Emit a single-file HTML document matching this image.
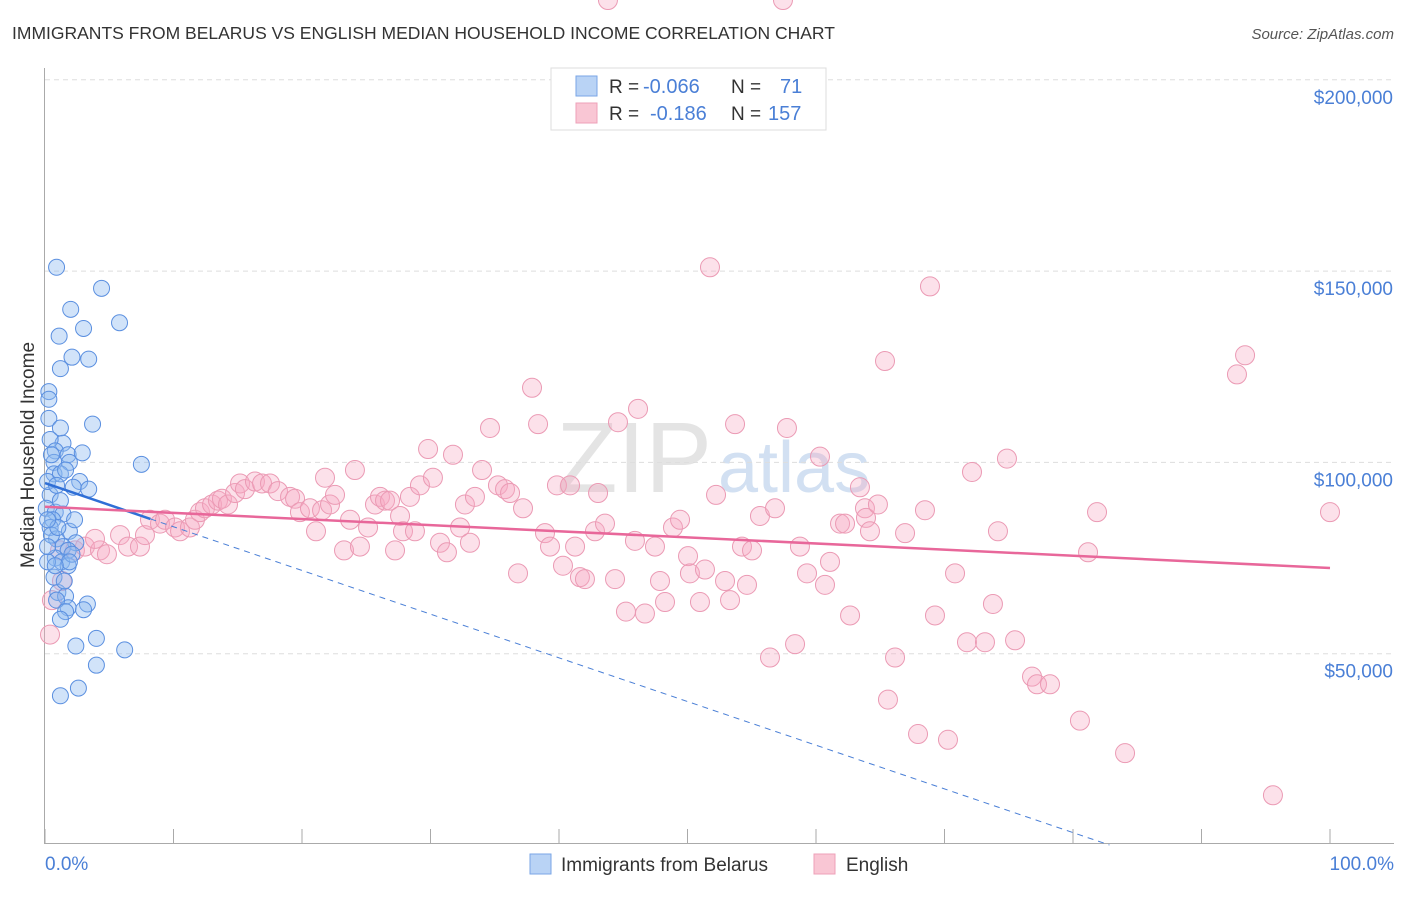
<!DOCTYPE html>
<html><head><meta charset="utf-8"><style>
body{margin:0;background:#fff;font-family:"Liberation Sans",sans-serif;}
svg text{font-family:"Liberation Sans",sans-serif;}
</style></head><body>
<svg id="chart" width="1406" height="892" viewBox="0 0 1406 892">
<text x="12" y="39" font-size="17.5" fill="#333">IMMIGRANTS FROM BELARUS VS ENGLISH MEDIAN HOUSEHOLD INCOME CORRELATION CHART</text>
<text x="1394" y="39" font-size="15" fill="#555" text-anchor="end" font-style="italic">Source: ZipAtlas.com</text>
<text x="712" y="492" font-size="100" fill="#e4e4e4" text-anchor="end" font-family="Liberation Serif">ZIP</text>
<text x="718" y="492" font-size="72" fill="#d2e0f2">atlas</text>
<g id="grid"></g>
<g id="axes"></g>
<g id="pts"></g>
<g id="trend"></g>
<text transform="translate(34,455) rotate(-90)" font-size="19" fill="#333" text-anchor="middle">Median Household Income</text>
<text x="45" y="870" font-size="19" fill="#4a7fd6">0.0%</text>
<text x="1394" y="870" font-size="19" fill="#4a7fd6" text-anchor="end">100.0%</text>
<g>
<rect x="551" y="68" width="275" height="62" fill="#fff" stroke="#ddd"/>
<rect x="576" y="76" width="21" height="20" fill="#b9d3f5" stroke="#7aa6e6"/>
<rect x="576" y="103" width="21" height="20" fill="#f9c6d4" stroke="#eea0b8"/>
<text x="609" y="93" font-size="19" fill="#333">R = </text><text x="643" y="93" font-size="20" fill="#4a7fd6">-0.066</text>
<text x="731" y="93" font-size="19" fill="#333">N = </text><text x="780" y="93" font-size="20" fill="#4a7fd6">71</text>
<text x="609" y="120" font-size="19" fill="#333">R = </text><text x="650" y="120" font-size="20" fill="#4a7fd6">-0.186</text>
<text x="731" y="120" font-size="19" fill="#333">N = </text><text x="768" y="120" font-size="20" fill="#4a7fd6">157</text>
</g>
<g>
<rect x="530" y="854" width="21" height="20" fill="#b9d3f5" stroke="#7aa6e6"/>
<text x="561" y="871" font-size="19" fill="#333">Immigrants from Belarus</text>
<rect x="814" y="854" width="21" height="20" fill="#f9c6d4" stroke="#eea0b8"/>
<text x="846" y="871" font-size="19" fill="#333">English</text>
</g>
</svg>
<script>
const yTicks=[50000,100000,150000,200000];
const yTickLabels=["$50,000","$100,000","$150,000","$200,000"];
const xTicks=[0,10,20,30,40,50,60,70,80,90,100];
const blueX=[0.9,4.4,2.0,3.0,5.8,1.1,2.1,3.4,1.2,0.3,0.3,0.3,1.2,3.7,1.4,0.4,0.8,1.8,2.9,0.7,1.9,7.5,0.7,1.2,2.7,2.2,3.4,0.4,0.1,0.8,1.4,0.6,0.4,1.9,0.9,2.4,1.4,1.8,0.8,1.3,1.8,0.2,1.0,1.6,3.3,1.8,3.0,0.9,4.0,6.2,2.4,4.0,1.2,2.6,0.5,0.2,0.7,1.5,2.1,2.3,1.2,0.2,0.5,1.6,0.9,1.0,0.2,1.6,1.2,1.9,0.8];
const blueY=[151,145.5,140,135,136.5,133,127.5,127,124.5,118.5,116.5,111.5,109,110,105,106,103,102,102.5,100,100,99.5,97,97,95,93.5,93,91.5,88,87,86.5,85,83,82,80,79,78,77,75,74,73,74,66,65,63,62,61.5,64,54,51,52,47,39,41,81,78,70,69,76,85,90,95,102,98,94,83,85,61,59,74,73];
const pinkX=[0.39,0.54,1.32,1.17,2.33,3.11,4.28,4.82,3.89,5.84,6.46,7.39,7.78,8.17,8.95,9.34,10.12,10.51,11.28,11.67,12.06,12.45,13.0,13.46,13.77,14.24,14.79,15.18,15.56,16.34,16.89,17.51,18.13,19.07,19.46,19.84,20.62,21.09,21.56,21.79,22.18,22.57,23.27,23.74,24.12,24.51,25.14,25.68,26.07,26.46,26.85,27.24,27.63,27.86,28.4,28.79,29.18,29.81,30.19,30.74,31.28,31.75,32.3,32.68,33.07,33.46,34.01,34.63,35.25,35.8,36.19,36.81,37.2,37.9,38.37,38.91,39.3,39.84,40.31,40.86,41.25,41.63,42.02,42.8,43.04,43.58,44.36,44.59,45.21,45.91,46.15,46.69,47.47,47.86,48.25,48.87,49.42,50.04,50.19,50.97,51.36,51.75,52.22,52.92,53.31,53.7,54.24,54.63,55.02,55.64,56.42,56.81,57.74,58.37,58.75,59.3,60.31,60.7,61.09,61.87,62.26,62.65,63.42,63.81,63.89,64.2,64.82,65.37,65.6,66.15,66.93,67.94,68.48,68.87,69.26,70.27,70.82,71.75,72.14,73.15,73.77,74.16,74.86,75.49,76.81,77.2,78.21,80.54,81.17,81.87,84.05,92.76,93.39,95.56,100,57.43,43.81];
const pinkY=[55,64,69,77,77,78,77,76,80,81,78,78,81,85,84,85,83,82,83,85,87,88,89,90,90.5,89,92,94.5,93,95,94.5,94.5,92.5,91,90.5,87,88,82,87.5,96,89,91.5,77,85,98,78,83,89,91,90,90,77,86,82,91,82,94,103.5,96,79,76.5,102,83,89,79,91,98,109,94,93,92,71,88,119.5,110,81.5,78,94,73,94,78,70,69.5,82,92,84,69.5,110.5,61,79.5,114,60.5,78,69,63.5,83,85,75.5,71,63.5,72,151,91.5,69,64,110,78,68,77,86,49,88,109,52.5,78,71,101.5,68,74,84,84,60,93.5,88,85.5,82,89,126.5,38,49,81.5,29,87.5,146,60,27.5,71,53,97.5,53,63,82,101,53.5,44,42,42,32.5,76.5,87,24,123,128,13,87];
const blueTrend=[94600,-19600];
const pinkTrend=[88400,72400];
const X0=45,X1=1330,Y0=845,YPX=191.3/50000;
const xs=v=>X0+(X1-X0)*v/100;
const ys=v=>Y0-v*YPX;
const NS="http://www.w3.org/2000/svg";
function mk(tag,attrs,parent){const e=document.createElementNS(NS,tag);for(const k in attrs)e.setAttribute(k,attrs[k]);document.getElementById(parent).appendChild(e);return e;}
yTicks.forEach((t,i)=>{
 const l=mk('line',{x1:45,x2:1394,y1:ys(t),y2:ys(t),stroke:'#ddd','stroke-dasharray':'5,4'},'grid');
 
 
 const tx=mk('text',{x:1393,y:ys(t)+24,'font-size':19,fill:'#4a7fd6','text-anchor':'end'},'grid');
 tx.textContent=yTickLabels[i];
 
 
});
const ax=mk('line',{x1:44.5,x2:44.5,y1:68,y2:843,stroke:'#aaa'},'axes');


const bx=mk('line',{x1:44,x2:1394,y1:843.5,y2:843.5,stroke:'#aaa'},'axes');


xTicks.forEach(t=>{
 const l=mk('line',{x1:xs(t),x2:xs(t),y1:829,y2:843,stroke:'#aaa'},'axes');
 
 
});
pinkX.forEach((v,i)=>{
 const c=mk('circle',{cx:xs(v),cy:ys(pinkY[i]*1000),r:9.5,fill:'rgba(247,170,195,0.35)',stroke:'#eb9ab4','stroke-width':1},'pts');
 
 
});
blueX.forEach((v,i)=>{
 const c=mk('circle',{cx:xs(v),cy:ys(blueY[i]*1000),r:8,fill:'rgba(140,185,240,0.4)',stroke:'#5a8fe0','stroke-width':1},'pts');
 
 
});
const bAt=p=>blueTrend[0]+(blueTrend[1]-blueTrend[0])*p/100;
const zeroP=blueTrend[0]/(blueTrend[0]-blueTrend[1])*100;
const bd=mk('line',{x1:xs(8.2),y1:ys(bAt(8.2)),x2:xs(zeroP),y2:ys(0),stroke:'#4a7fd6','stroke-width':1,'stroke-dasharray':'6,5'},'trend');


const bs=mk('line',{x1:xs(0),y1:ys(bAt(0)),x2:xs(8.2),y2:ys(bAt(8.2)),stroke:'#2f6fd6','stroke-width':2.5},'trend');


const ps=mk('line',{x1:xs(0),y1:ys(pinkTrend[0]),x2:xs(100),y2:ys(pinkTrend[1]),stroke:'#e8679a','stroke-width':2.5},'trend');


</script>
</body></html>
